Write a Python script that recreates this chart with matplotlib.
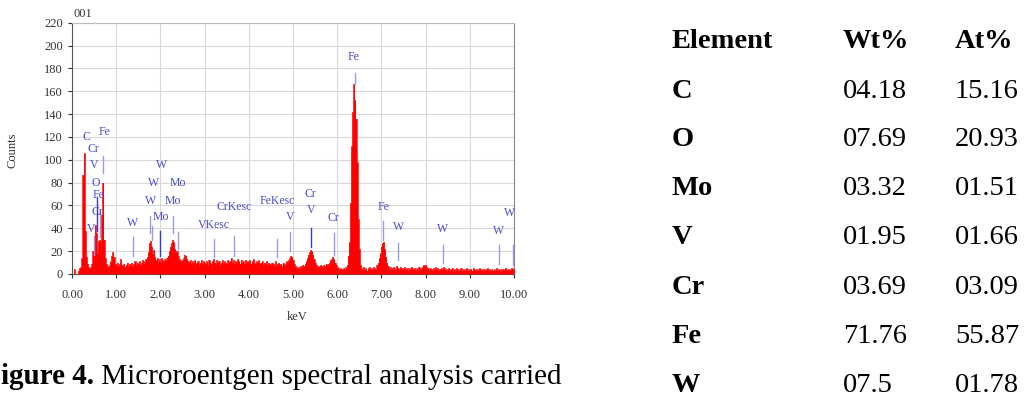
import numpy as np
import matplotlib
matplotlib.use("Agg")
import matplotlib.pyplot as plt

plt.rcParams['font.family'] = ['Liberation Serif', 'DejaVu Serif']

# ---------------- data ----------------
# EDS spectrum counts, 0.025 keV channels from 0.000 to 10.000 keV
counts = [
    0, 0, 4, 0, 0, 0, 3, 5, 6, 14, 87, 106, 38, 15, 9, 6, 5, 6, 9, 20,           # 0.0
    33, 43, 36, 18, 29, 30, 28, 52, 80, 30, 14, 9, 7, 6, 8, 11, 16, 19, 15, 9,    # 0.5
    8, 10, 7, 9, 13, 8, 7, 9, 6, 8, 10, 7, 9, 8, 10, 7, 9, 11, 8, 10,             # 1.0
    9, 11, 8, 10, 12, 9, 11, 13, 15, 19, 27, 29, 24, 18, 21, 15, 12, 14, 11, 13,  # 1.5
    10, 14, 12, 11, 13, 12, 14, 16, 20, 24, 27, 30, 28, 22, 19, 20, 16, 13, 12, 11,  # 2.0
    12, 14, 17, 16, 13, 11, 10, 12, 9, 11, 10, 12, 9, 10, 11, 8, 10, 12, 9, 11,   # 2.5
    10, 9, 11, 8, 12, 10, 9, 11, 13, 10, 9, 12, 10, 11, 8, 10, 12, 9, 11, 10,     # 3.0
    9, 12, 10, 11, 14, 10, 12, 9, 11, 10, 13, 11, 9, 12, 10, 11, 9, 12, 10, 11,   # 3.5
    10, 12, 9, 11, 13, 10, 9, 11, 10, 12, 9, 10, 11, 8, 10, 9, 11, 8, 10, 9,      # 4.0
    8, 10, 9, 7, 11, 8, 9, 10, 8, 9, 7, 10, 9, 8, 11, 10, 12, 14, 16, 15,         # 4.5
    12, 9, 7, 6, 5, 6, 5, 7, 6, 8, 7, 9, 11, 14, 17, 19, 21, 20, 17, 13,          # 5.0
    10, 8, 6, 7, 6, 8, 7, 6, 8, 7, 9, 8, 9, 10, 12, 13, 15, 13, 10, 8,            # 5.5
    6, 5, 4, 5, 4, 4, 5, 4, 6, 8, 16, 28, 62, 112, 142, 166, 152, 136, 98, 48,    # 6.0
    22, 8, 5, 4, 6, 4, 5, 3, 5, 6, 4, 5, 4, 6, 5, 4, 8, 10, 14, 18,               # 6.5
    24, 27, 28, 22, 15, 10, 7, 5, 6, 4, 5, 6, 4, 5, 7, 5, 4, 6, 5, 4,             # 7.0
    5, 6, 4, 5, 3, 5, 4, 6, 5, 4, 5, 3, 5, 4, 6, 5, 4, 6, 8, 7,                   # 7.5
    8, 6, 5, 4, 5, 4, 3, 5, 4, 6, 4, 5, 3, 4, 5, 4, 6, 5, 4, 3,                   # 8.0
    4, 5, 3, 4, 5, 3, 4, 3, 5, 4, 3, 4, 5, 3, 4, 3, 4, 5, 3, 4,                   # 8.5
    3, 4, 3, 5, 4, 3, 4, 3, 4, 5, 3, 4, 3, 4, 3, 4, 5, 3, 4, 3,                   # 9.0
    4, 3, 4, 3, 5, 3, 4, 3, 4, 3, 4, 3, 5, 4, 3, 4, 3, 4, 5, 4,                   # 9.5
    5,                                                                           # 10.0
]

# peak marker lines: energy (keV), low count, high count
marker_kev = [0.50, 0.56, 0.63, 0.705, 1.37, 1.77, 1.82, 2.00, 2.28, 2.39, 3.21, 3.66,
              4.64, 4.93, 5.40, 5.93, 6.40, 7.04, 7.38, 8.39, 9.66, 9.98]
marker_lo = [17, 38, 32, 88, 16, 36, 30, 16, 36, 22, 15, 16, 15, 20, 24, 17, 166, 30, 12, 10, 9, 8]
marker_hi = [32, 67, 55, 103, 32, 51, 42, 38, 51, 37, 31, 33, 31, 37, 40, 36, 176, 46, 27, 25, 25, 25]
marker_strong = [False, True, False, False, False, False, False, True, False, False, False, False,
                 False, False, True, False, False, False, False, False, False, False]

# peak labels: text, energy (keV), count
label_text = ["C", "Fe", "Cr", "V", "O", "Fe", "Cr", "V", "W", "W", "W", "Mo", "W", "Mo", "Mo",
              "VKesc", "CrKesc", "FeKesc", "V", "Cr", "V", "Cr", "Fe", "Fe", "W", "W", "W", "W"]
label_kev = [0.32, 0.73, 0.49, 0.51, 0.53, 0.60, 0.57, 0.43, 1.37, 2.03, 1.84, 2.39, 1.77, 2.28, 2.01,
             3.21, 3.66, 4.64, 4.93, 5.40, 5.40, 5.92, 6.38, 7.04, 7.38, 8.39, 9.66, 9.90]
label_cnt = [120, 124, 109, 95, 80, 69, 54, 39, 45, 95, 80, 80, 64, 64, 50,
             43, 59, 64, 50, 70, 56, 49, 190, 59, 41, 39, 38, 53]

x_ticks = [0, 1, 2, 3, 4, 5, 6, 7, 8, 9, 10]
y_ticks = [0, 20, 40, 60, 80, 100, 120, 140, 160, 180, 200, 220]

# composition table
elements = ["C", "O", "Mo", "V", "Cr", "Fe", "W"]
wt_pct = ["04.18", "07.69", "03.32", "01.95", "03.69", "71.76", "07.5"]
at_pct = ["15.16", "20.93", "01.51", "01.66", "03.09", "55.87", "01.78"]

# ---------------- figure ----------------
W, H = 1025, 399
fig = plt.figure(figsize=(W / 100, H / 100), dpi=100)
fig.patch.set_facecolor('white')

ax = fig.add_axes([72 / W, 1 - 274 / H, (514 - 72) / W, (274 - 22.7) / H])
energy = np.linspace(0, 10, len(counts))
ax.fill_between(energy, counts, step='mid', color='#ff0000', lw=0, zorder=3)
ax.step(energy, counts, where='mid', color='#ff0000', lw=0.5, zorder=3)

for e, lo, hi, strong in zip(marker_kev, marker_lo, marker_hi, marker_strong):
    ax.plot([e, e], [lo, hi], color='#3a3ac8' if strong else '#9a9ae8', lw=1.0, zorder=4)

for t, e, c in zip(label_text, label_kev, label_cnt):
    ax.text(e, c, t, color='#4a4ad0', fontsize=8.5, ha='center', va='center', zorder=5)

ax.set_xlim(0, 10)
ax.set_ylim(0, 220)
ax.set_xticks(x_ticks)
ax.set_xticklabels([f"{v:.2f}" for v in x_ticks])
ax.set_yticks(y_ticks)
ax.set_yticklabels([str(v) for v in y_ticks])
ax.grid(True, color='#d8d8d8', lw=0.8, zorder=0)
ax.set_axisbelow(True)
ax.tick_params(axis='both', labelsize=9, colors='#333333', length=3, width=0.8)
ax.tick_params(axis='x', pad=8)
for side in ['left', 'bottom']:
    ax.spines[side].set_color('#555555')
ax.spines['right'].set_color('#888888')
ax.spines['top'].set_color('#bbbbbb')

fig.text(13 / W, 1 - 150 / H, "Counts", rotation=90, fontsize=9, color='#333333',
         ha='center', va='center')
fig.text(297 / W, 1 - 317 / H, "keV", fontsize=9, color='#333333', ha='center', va='center')
fig.text(73 / W, 1 - 14 / H, "001", fontsize=9, color='#333333', ha='left', va='center')

# table
row_y = [41.7, 91, 139.3, 188.3, 237.3, 287.3, 336.7, 385]
col_x = [672, 843, 955]
tfs = 20.5
fig.text(col_x[0] / W, 1 - row_y[0] / H, "Element", fontsize=tfs, fontweight='bold',
         ha='left', va='center')
fig.text(col_x[1] / W, 1 - row_y[0] / H, "Wt%", fontsize=tfs, fontweight='bold',
         ha='left', va='center')
fig.text(col_x[2] / W, 1 - row_y[0] / H, "At%", fontsize=tfs, fontweight='bold',
         ha='left', va='center')
for i, (el, w, a) in enumerate(zip(elements, wt_pct, at_pct)):
    y = 1 - row_y[i + 1] / H
    fig.text(col_x[0] / W, y, el, fontsize=tfs, fontweight='bold', ha='left', va='center')
    fig.text(col_x[1] / W, y, w, fontsize=tfs, ha='left', va='center')
    fig.text(col_x[2] / W, y, a, fontsize=tfs, ha='left', va='center')

# caption (cut off at the left edge)
t1 = fig.text(1 / W, 1 - 377 / H, "igure 4.", fontsize=21, fontweight='bold',
              ha='left', va='center')
ax.annotate(" Microroentgen spectral analysis carried", xy=(1, 0), xycoords=t1,
            ha='left', va='bottom', fontsize=21, annotation_clip=False)

fig.savefig("out.png", dpi=100)
